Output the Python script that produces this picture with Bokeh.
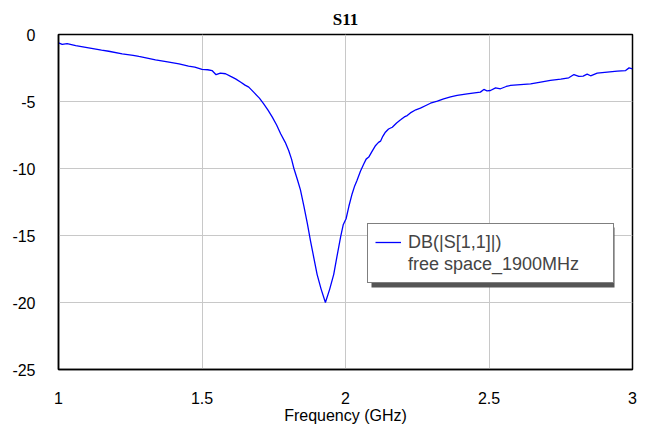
from bokeh.plotting import figure
from bokeh.models import Legend, LegendItem, BoxAnnotation, FixedTicker, Range1d
from bokeh.embed import file_html
from bokeh.resources import INLINE

# ---- data ----
freq_ghz = [1.000, 1.013, 1.030, 1.060, 1.105, 1.150, 1.175, 1.222, 1.260, 1.280,
            1.338, 1.380, 1.420, 1.453, 1.475, 1.500, 1.520, 1.535, 1.549, 1.564,
            1.582, 1.600, 1.617, 1.634, 1.650, 1.663, 1.680, 1.700, 1.715, 1.730,
            1.745, 1.760, 1.774, 1.790, 1.802, 1.812, 1.820, 1.832, 1.843, 1.855,
            1.867, 1.878, 1.890, 1.901, 1.915, 1.930, 1.945, 1.959, 1.970, 1.983,
            1.992, 2.002, 2.012, 2.023, 2.032, 2.040, 2.052, 2.064, 2.072, 2.081,
            2.093, 2.105, 2.115, 2.122, 2.130, 2.139, 2.150, 2.163, 2.178, 2.192,
            2.205, 2.215, 2.226, 2.245, 2.261, 2.280, 2.296, 2.320, 2.342, 2.366,
            2.389, 2.424, 2.450, 2.470, 2.482, 2.493, 2.505, 2.523, 2.540, 2.560,
            2.575, 2.610, 2.645, 2.680, 2.714, 2.750, 2.778, 2.796, 2.813, 2.828,
            2.842, 2.854, 2.877, 2.912, 2.947, 2.976, 2.988, 3.000]
s11_db = [-0.62, -0.74, -0.68, -0.83, -1.00, -1.17, -1.25, -1.44, -1.55, -1.64,
          -1.89, -2.05, -2.20, -2.36, -2.43, -2.61, -2.63, -2.69, -3.00, -2.88,
          -2.93, -3.13, -3.31, -3.55, -3.78, -3.93, -4.30, -4.75, -5.17, -5.65,
          -6.17, -6.75, -7.41, -8.05, -8.66, -9.30, -9.98, -10.8, -11.6, -12.8,
          -14.1, -15.4, -16.7, -17.9, -19.0, -20.0, -19.0, -17.9, -16.6, -15.1,
          -14.2, -13.75, -12.8, -11.9, -11.3, -10.9, -10.2, -9.65, -9.30, -9.15,
          -8.70, -8.28, -8.05, -7.96, -7.60, -7.29, -7.05, -6.92, -6.60, -6.37,
          -6.15, -6.05, -5.85, -5.62, -5.50, -5.30, -5.13, -4.98, -4.80, -4.65,
          -4.55, -4.43, -4.35, -4.30, -4.10, -4.20, -4.18, -3.98, -4.05, -3.88,
          -3.80, -3.74, -3.68, -3.55, -3.43, -3.33, -3.23, -2.99, -3.13, -3.10,
          -2.96, -3.08, -2.89, -2.81, -2.74, -2.69, -2.49, -2.56]
x_ticks = [1, 1.5, 2, 2.5, 3]
x_tick_labels = ["1", "1.5", "2", "2.5", "3"]
y_ticks = [0, -5, -10, -15, -20, -25]
y_tick_labels = ["0", "-5", "-10", "-15", "-20", "-25"]
title_text = "S11"
x_label = "Frequency (GHz)"
legend_labels = ["DB(|S[1,1]|)", "free space_1900MHz"]

FONT = "Liberation Sans"

p = figure(width=647, height=430, output_backend="svg", toolbar_location=None,
           x_range=Range1d(1, 3), y_range=Range1d(-25, 0),
           min_border_left=58, min_border_right=15, min_border_top=34, min_border_bottom=61,
           title=title_text)
p.background_fill_color = "white"
p.border_fill_color = "white"
p.outline_line_color = "black"
p.outline_line_width = 1.5

p.title.align = "center"
p.title.vertical_align = "top"
p.title.text_font = "Liberation Serif"
p.title.text_font_style = "bold"
p.title.text_font_size = "17px"
p.title.text_color = "black"
p.title.standoff = 8

p.xaxis.ticker = FixedTicker(ticks=x_ticks)
p.yaxis.ticker = FixedTicker(ticks=y_ticks)
p.xaxis.major_label_overrides = dict(zip(x_ticks, x_tick_labels))
p.yaxis.major_label_overrides = dict(zip(y_ticks, y_tick_labels))
for ax in (p.xaxis[0], p.yaxis[0]):
    ax.major_tick_line_color = None
    ax.minor_tick_line_color = None
    ax.axis_line_color = "black"
    ax.axis_line_width = 1.5
    ax.major_label_text_font = FONT
    ax.major_label_text_font_size = "16px"
    ax.major_label_text_color = "black"
p.xaxis.major_label_standoff = 16
p.yaxis.major_label_standoff = 17
p.xaxis.axis_label = x_label
p.xaxis.axis_label_text_font = FONT
p.xaxis.axis_label_text_font_size = "16px"
p.xaxis.axis_label_text_font_style = "normal"
p.xaxis.axis_label_text_color = "black"
p.xaxis.axis_label_standoff = 0

p.grid.grid_line_color = "#c8c8c8"
p.grid.grid_line_width = 1

r = p.line(freq_ghz, s11_db, line_color="#0000ff", line_width=1.3)
dummy = p.line([freq_ghz[0]], [s11_db[0]], line_alpha=0)

# legend shadow (pixel offsets converted into data units)
px_x = 287.0
px_y = 335.0 / 25.0
p.add_layout(BoxAnnotation(left=1 + (371 - 58) / px_x, right=1 + (614 - 58) / px_x,
                           top=-(227 - 34) / px_y, bottom=-(287 - 34) / px_y,
                           fill_color="#555555", fill_alpha=1, line_alpha=0, level="overlay"))

legend = Legend(items=[LegendItem(label=legend_labels[0], renderers=[r]),
                       LegendItem(label=legend_labels[1], renderers=[dummy])],
                location=(309, 86), margin=0, padding=7, spacing=0,
                glyph_width=26, glyph_height=22, label_height=22, label_standoff=7,
                label_width=198,
                label_text_font=FONT, label_text_font_size="18px",
                border_line_color="black", border_line_width=1.5,
                background_fill_color="white", background_fill_alpha=1.0)
p.add_layout(legend)

open("out.html", "w").write(file_html(p, INLINE))
